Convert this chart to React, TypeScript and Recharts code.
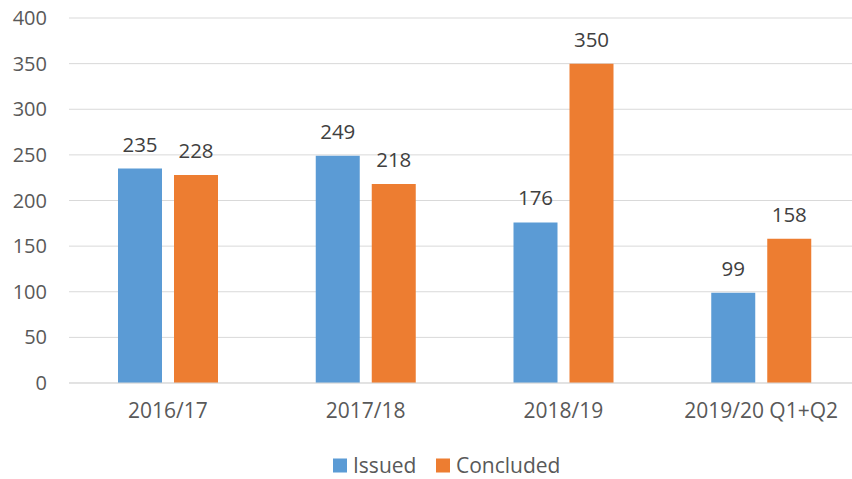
import React from "react";
import { BarChart, Bar, XAxis, YAxis, CartesianGrid, Legend, LabelList } from "recharts";

const categories = ["2016/17", "2017/18", "2018/19", "2019/20 Q1+Q2"];
const issued = [235, 249, 176, 99];
const concluded = [228, 218, 350, 158];
const yTicks = [0, 50, 100, 150, 200, 250, 300, 350, 400];

const data = categories.map((c, i) => ({ name: c, Issued: issued[i], Concluded: concluded[i] }));

const FONT = "'Open Sans', sans-serif";
const BLUE = "#5B9BD5";
const ORANGE = "#ED7D31";

const legendItems = [
  { n: "Issued", c: BLUE },
  { n: "Concluded", c: ORANGE },
];

const LegendContent = () => (
  <svg width={852} height={40} style={{ display: "block" }}>
    <g fontFamily={FONT} fontSize={21} fill="#595959">
      <rect x={333} y={19.5} width={14} height={14} fill={legendItems[0].c} />
      <text x={353} y={34} fill="#595959">{legendItems[0].n}</text>
      <rect x={436} y={19.5} width={14} height={14} fill={legendItems[1].c} />
      <text x={456} y={34} fill="#595959">{legendItems[1].n}</text>
    </g>
  </svg>
);

export default function App() {
  return (
    <div style={{ position: "absolute", left: 0, top: 0, width: 852, height: 479, overflow: "hidden", background: "#fff" }}>
      <BarChart width={862} height={479} data={data} margin={{ top: 18, right: 2, bottom: 0, left: 0 }} barSize={44} barGap={12}>
        <CartesianGrid vertical={false} stroke="#d9d9d9" strokeWidth={1} />
        <XAxis
          dataKey="name"
          axisLine={{ stroke: "#d9d9d9" }}
          tickLine={false}
          height={56}
          tickMargin={14}
          tick={{ fill: "#595959", fontSize: 21, fontFamily: FONT }}
        />
        <YAxis
          domain={[0, 400]}
          ticks={yTicks}
          width={69}
          axisLine={false}
          tickLine={false}
          tickSize={0}
          tickMargin={22}
          interval={0}
          tick={{ fill: "#595959", fontSize: 20, fontFamily: FONT }}
        />
        <Legend verticalAlign="bottom" height={40} wrapperStyle={{ left: 0 }} content={() => <LegendContent />} />
        <Bar dataKey="Issued" fill={BLUE} isAnimationActive={false}>
          <LabelList dataKey="Issued" position="top" offset={17} fill="#404040" fontSize={20.5} fontFamily={FONT} />
        </Bar>
        <Bar dataKey="Concluded" fill={ORANGE} isAnimationActive={false}>
          <LabelList dataKey="Concluded" position="top" offset={17} fill="#404040" fontSize={20.5} fontFamily={FONT} />
        </Bar>
      </BarChart>
    </div>
  );
}
